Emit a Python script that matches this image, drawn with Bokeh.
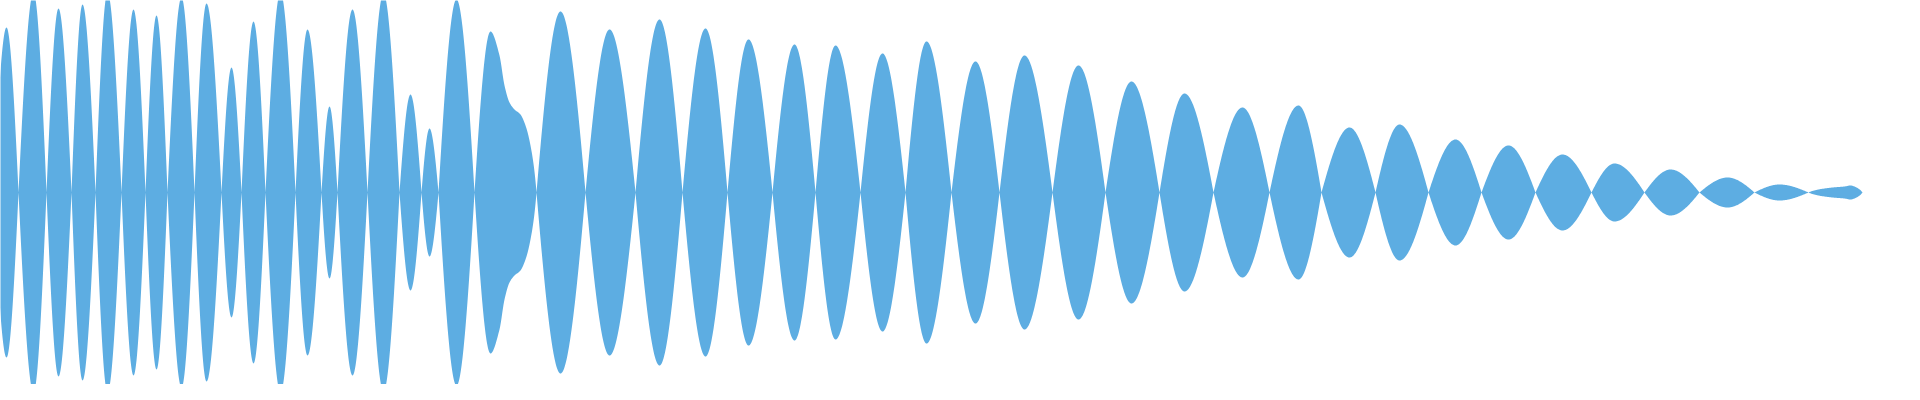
import numpy as np
from bokeh.plotting import figure
from bokeh.models import Range1d
from bokeh.embed import file_html
from bokeh.resources import INLINE

# Envelope key points of the waveform (position, half-amplitude).
# Zero amplitudes are the nodes between lobes; the others are lobe peaks
# plus a few extra outline points where a lobe has a visible shoulder.
env_x = [
    1, 14, 26, 41, 54, 66, 79, 90, 103, 115, 129, 141, 153, 164, 175, 189,
    202, 214, 229, 239, 249, 261, 273, 288, 303, 315, 329, 337, 345, 360,
    375, 391, 407, 418, 429, 437, 446, 464, 482,
    498, 507, 512, 517, 522, 528, 533, 538, 544,
    568, 593, 617, 643, 667, 690, 713, 735, 756, 780, 802, 823, 843, 868,
    890, 913, 934, 959, 983, 1007, 1032, 1060, 1086, 1113, 1139, 1167,
    1192, 1221, 1250, 1277, 1306, 1329, 1357, 1383, 1407, 1436, 1463, 1489,
    1516, 1543, 1570, 1599, 1622, 1652, 1678, 1707, 1735, 1762, 1787, 1816,
    1826, 1840, 1852, 1858, 1864, 1870,
]
env_amp = [
    0, 165, 0, 200, 0, 184, 0, 188, 0, 200, 0, 183, 0, 177, 0, 195,
    0, 189, 0, 125, 0, 171, 0, 200, 0, 163, 0, 86, 0, 183,
    0, 199, 0, 98, 0, 64, 0, 193, 0,
    161, 137, 107, 90, 83, 78, 67, 47, 0,
    181, 0, 163, 0, 173, 0, 164, 0, 153, 0, 148, 0, 147, 0,
    139, 0, 151, 0, 131, 0, 137, 0, 127, 0, 111, 0,
    99, 0, 85, 0, 87, 0, 65, 0, 68, 0, 53, 0,
    47, 0, 38, 0, 29, 0, 23, 0, 15, 0, 8, 0,
    3, 5, 6, 7, 5, 0,
]

COLOR = "#5dade2"


def envelope_curve(xs, ys, step=0.5):
    """Smooth outline through the key points (cubic Hermite, sine-like at nodes)."""
    xs = np.asarray(xs, float)
    ys = np.asarray(ys, float)
    n = len(xs)
    h = np.diff(xs)
    d = np.diff(ys) / h
    ps = np.zeros(n)
    for i in range(1, n - 1):
        if ys[i] >= ys[i - 1] and ys[i] >= ys[i + 1]:
            ps[i] = 0.0
        elif d[i - 1] * d[i] <= 0:
            ps[i] = 0.0
        else:
            w1 = 2 * h[i] + h[i - 1]
            w2 = h[i] + 2 * h[i - 1]
            ps[i] = (w1 + w2) / (w1 / d[i - 1] + w2 / d[i])
    out_x, out_y = [], []
    for i in range(n - 1):
        s0 = np.pi / 2 * d[i] if ys[i] == 0 else ps[i]
        s1 = np.pi / 2 * d[i] if ys[i + 1] == 0 else ps[i + 1]
        m = max(int(h[i] / step), 2)
        t = np.linspace(0, 1, m, endpoint=(i == n - 2))
        h00 = 2 * t**3 - 3 * t**2 + 1
        h10 = t**3 - 2 * t**2 + t
        h01 = -2 * t**3 + 3 * t**2
        h11 = t**3 - t**2
        y = h00 * ys[i] + h10 * h[i] * s0 + h01 * ys[i + 1] + h11 * h[i] * s1
        out_x.append(xs[i] + t * h[i])
        out_y.append(np.clip(y, 0, None))
    return np.concatenate(out_x), np.concatenate(out_y)


cx, cy = envelope_curve(env_x, env_amp)

p = figure(
    width=1904, height=384, output_backend="svg", toolbar_location=None,
    x_range=Range1d(8, 1912), y_range=Range1d(-192, 192),
    min_border=0,
)
p.varea(x=cx.tolist(), y1=(-cy).tolist(), y2=cy.tolist(),
        fill_color=COLOR, fill_alpha=1.0)
p.axis.visible = False
p.grid.visible = False
p.outline_line_color = None
p.background_fill_color = "white"
p.border_fill_color = "white"

open("out.html", "w").write(file_html(p, INLINE))
